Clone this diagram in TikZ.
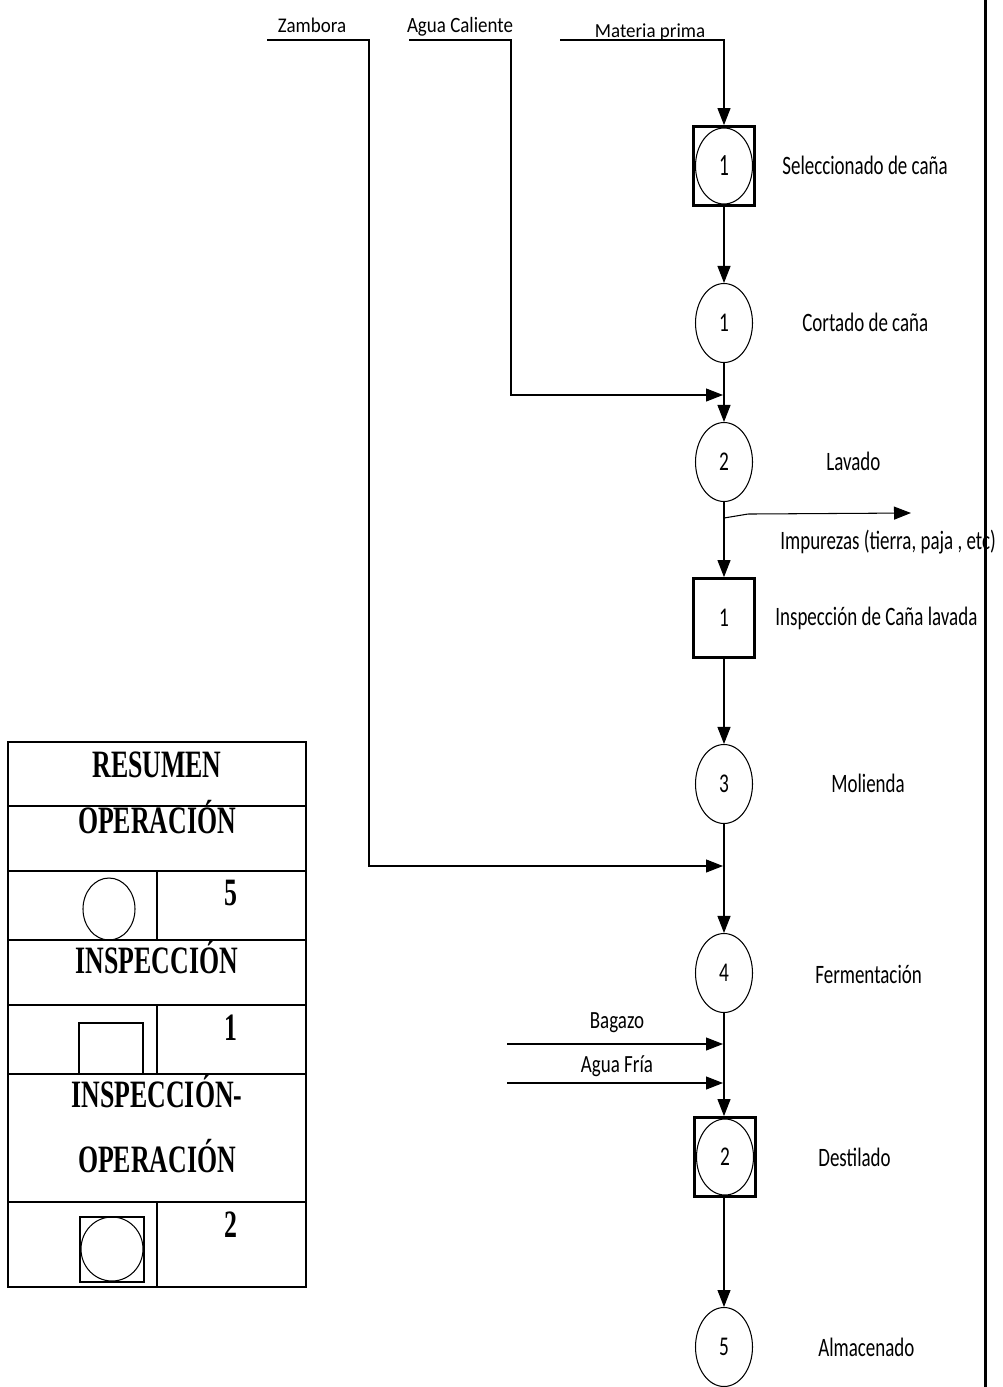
\documentclass[tikz,border=0pt]{standalone}
\usepackage{fontspec}
\setmainfont{Carlito}
\newfontfamily\tablafont{Liberation Serif}
\usetikzlibrary{shapes.geometric,arrows.meta,calc}
\newcommand{\alto}[2][1.4]{\scalebox{1}[#1]{#2}}
\tikzset{
  oper/.style={ellipse, draw, line width=0.6pt, minimum width=1.14cm,
               minimum height=1.58cm, inner sep=0pt, font=\fontsize{11}{13}\selectfont},
  insp/.style={rectangle, draw, line width=1.6pt, minimum width=1.22cm,
               minimum height=1.58cm, inner sep=0pt, font=\fontsize{11}{13}\selectfont},
  etiqueta/.style={anchor=base west, inner sep=0pt, font=\fontsize{10.8}{13}\selectfont},
  entrada/.style={anchor=base, inner sep=0pt, font=\fontsize{10.8}{13}\selectfont},
  flecha/.style={-{Triangle[length=0.34cm,width=0.26cm]}, line width=0.6pt},
  linea/.style={line width=0.6pt},
  tabla/.style={line width=1.1pt},
  titulo/.style={anchor=base, inner sep=0pt,
                 font=\tablafont\bfseries\fontsize{14.7}{17}\selectfont},
}
\begin{document}
\begin{tikzpicture}[x=0.02cm, y=-0.02cm]
  \useasboundingbox (0,0) rectangle (1002,1387);

  % diagrama de flujo
  \node[insp] (s1) at (724,166) {};
  \node[oper, minimum height=1.52cm] (s1c) at (724,166) {\alto[1.6]{1}};
  \node[oper] (c1) at (724,323) {\alto{1}};
  \node[oper] (c2) at (724,462) {\alto{2}};
  \node[insp] (i1) at (724,618) {\alto{1}};
  \node[oper] (c3) at (724,784) {\alto{3}};
  \node[oper] (c4) at (724,973) {\alto{4}};
  \node[insp] (s2) at (725,1157) {};
  \node[oper, minimum height=1.52cm] (s2c) at (725,1157) {\alto{2}};
  \node[oper] (c5) at (724,1347) {\alto{5}};

  \node[etiqueta] (l1) at (782,174) {\alto{Seleccionado de caña}};
  \node[etiqueta] (l2) at (802,331) {\alto{Cortado de caña}};
  \node[etiqueta] (l3) at (826,470) {\alto{Lavado}};
  \node[etiqueta] (l4) at (780,549) {\alto{Impurezas (tierra, paja , etc)}};
  \node[etiqueta] (l5) at (775,625) {\alto{Inspección de Caña lavada}};
  \node[etiqueta] (l6) at (831,792) {\alto{Molienda}};
  \node[etiqueta] (l7) at (815,983) {\alto{Fermentación}};
  \node[etiqueta] (l8) at (818,1166) {\alto{Destilado}};
  \node[etiqueta] (l9) at (818,1356) {\alto{Almacenado}};

  % entradas y salidas
  \node[entrada] (tz) at (312,32) {\alto[1.1]{Zambora}};
  \node[entrada] (ta) at (460,32) {\alto[1.15]{Agua Caliente}};
  \node[entrada] (tm) at (650,37) {\alto[1.05]{Materia prima}};
  \node[entrada] (tb) at (617,1028) {\alto[1.3]{Bagazo}};
  \node[entrada] (tf) at (617,1072) {\alto[1.3]{Agua Fría}};

  \coordinate (mp) at (560,40);
  \coordinate (ac) at (409,40);
  \coordinate (acj) at (723,395);
  \coordinate (za) at (267,40);
  \coordinate (zaj) at (723,866);
  \coordinate (imp) at (911,513);
  \coordinate (bg) at (507,1044);
  \coordinate (bgj) at (723,1044);
  \coordinate (af) at (507,1083);
  \coordinate (afj) at (723,1083);

  \draw[flecha] (mp) -| (s1.north);
  \draw[flecha] (s1.south) -- (c1.north);
  \draw[flecha] (ac) -- ++(102,0) |- (acj);
  \draw[flecha] (c1.south) -- (c2.north);
  \draw[flecha] ($(c2.south)+(0,16)$) -- ++(24,-4) -- (imp);
  \draw[flecha] (c2.south) -- (i1.north);
  \draw[flecha] (i1.south) -- (c3.north);
  \draw[flecha] (za) -- ++(102,0) |- (zaj);
  \draw[flecha] (c3.south) -- (c4.north);
  \draw[flecha] (bg) -- (bgj);
  \draw[flecha] (af) -- (afj);
  \draw[flecha] (c4.south) -- (c4.south |- s2.north);
  \draw[flecha] (c5.north |- s2.south) -- (c5.north);

  % margen derecho
  \draw[line width=1.7pt] (985,0) -- (985,1387);

  % cuadro resumen
  \draw[tabla] (8,742) rectangle (306,1287);
  \foreach \y in {806,871,940,1005,1074,1202}
    \draw[tabla] (8,\y) -- (306,\y);
  \draw[tabla] (157,871) -- (157,940);
  \draw[tabla] (157,1005) -- (157,1074);
  \draw[tabla] (157,1202) -- (157,1287);

  \node[titulo] (r1) at (157,777) {\alto[1.5]{RESUMEN}};
  \node[titulo] (r2) at (157,833) {\alto[1.5]{OPERACIÓN}};
  \node[titulo] (r3) at (157,973) {\alto[1.5]{INSPECCIÓN}};
  \node[titulo] (r4) at (157,1107) {\alto[1.5]{INSPECCIÓN-}};
  \node[titulo] (r5) at (157,1172) {\alto[1.5]{OPERACIÓN}};
  \node[titulo] (n1) at (231,905) {\alto[1.5]{5}};
  \node[titulo] (n2) at (231,1040) {\alto[1.5]{1}};
  \node[titulo] (n3) at (231,1237) {\alto[1.5]{2}};

  \draw[linea] (109,909) ellipse [x radius=26, y radius=31];
  \draw[linea] (79,1023) rectangle (143,1074);
  \draw[linea] (80,1217) rectangle (144,1282);
  \draw[linea] (112,1249) ellipse [x radius=31, y radius=32];
\end{tikzpicture}
\end{document}
